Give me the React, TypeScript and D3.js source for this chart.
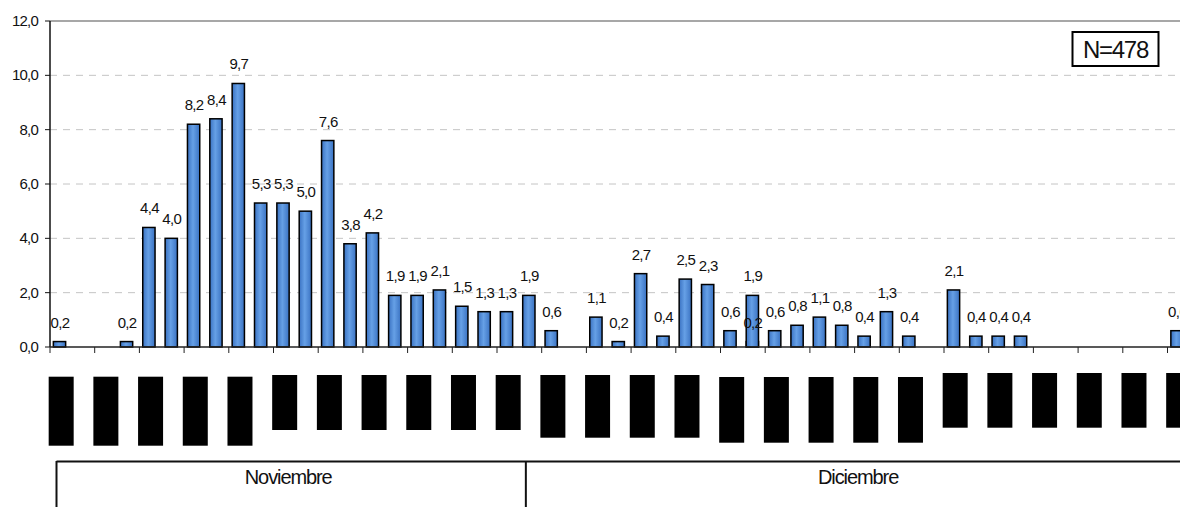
import React from "react";
import * as d3 from "d3";

// Categories: days from 10 Nov to 30 Dec
const categories: string[] = [
  "10/11","11/11","12/11","13/11","14/11","15/11","16/11","17/11","18/11","19/11",
  "20/11","21/11","22/11","23/11","24/11","25/11","26/11","27/11","28/11","29/11","30/11",
  "01/12","02/12","03/12","04/12","05/12","06/12","07/12","08/12","09/12","10/12",
  "11/12","12/12","13/12","14/12","15/12","16/12","17/12","18/12","19/12","20/12",
  "21/12","22/12","23/12","24/12","25/12","26/12","27/12","28/12","29/12","30/12",
];

// Percentage per day (null = no bar)
const values: (number | null)[] = [
  0.2, null, null, 0.2, 4.4, 4.0, 8.2, 8.4, 9.7, 5.3,
  5.3, 5.0, 7.6, 3.8, 4.2, 1.9, 1.9, 2.1, 1.5, 1.3, 1.3,
  1.9, 0.6, null, 1.1, 0.2, 2.7, 0.4, 2.5, 2.3, 0.6,
  1.9, 0.6, 0.8, 1.1, 0.8, 0.4, 1.3, 0.4, null, 2.1,
  0.4, 0.4, 0.4, null, null, null, null, null, null, 0.6,
];

// Second (overlapped) series, hidden behind the main bars
const hiddenValues: (number | null)[] = categories.map((_, i) => (i === 31 ? 0.2 : null));

const yTicks = [0, 2, 4, 6, 8, 10, 12];
const months = [
  { name: "Noviembre", count: 21 },
  { name: "Diciembre", count: 30 },
];
const nLabel = "N=478";

// Label block groups (rendered as solid blocks in the original): [count, top, bottom]
const blockGroups: [number, number, number][] = [
  [5, 376.7, 445.7],
  [6, 375, 430],
  [4, 375, 437.7],
  [5, 377, 442.7],
  [6, 373, 427.7],
];

const W = 1180;
const H = 507;
const FONT = "'Liberation Sans', Arial, sans-serif";

const fmt = (v: number) => d3.format(".1f")(v).replace(".", ",");

export default function App() {
  const left = 50;
  const step = 22.35;
  const x = d3
    .scaleBand<string>()
    .domain(categories)
    .range([left, left + step * categories.length])
    .padding(0);
  const bw = x.bandwidth();
  const y = d3.scaleLinear().domain([0, 12]).range([347, 21]);
  const barX = (c: string) => (x(c) as number) + bw * 0.15;
  const barW = bw * 0.55;

  const tickCats = categories.filter((_, i) => i % 2 === 0);
  const blockSpecs: { top: number; bottom: number }[] = [];
  blockGroups.forEach(([n, t, b]) => {
    for (let i = 0; i < n; i++) blockSpecs.push({ top: t, bottom: b });
  });

  // month boxes
  const monthOffset = 6.5;
  let acc = 0;
  const monthBoxes = months.map((m) => {
    const x0 = (x(categories[acc]) as number) + monthOffset;
    const x1 = x0 + m.count * step;
    acc += m.count;
    return { ...m, x0, x1 };
  });

  return (
    <svg
      width={W}
      height={H}
      style={{ position: "absolute", left: 0, top: 0, background: "#fff" }}
      fontFamily={FONT}
    >
      <defs>
        <linearGradient id="barGrad" x1="0" x2="1" y1="0" y2="0">
          <stop offset="0%" stopColor="#3a72c2" />
          <stop offset="45%" stopColor="#66a0e6" />
          <stop offset="100%" stopColor="#3a72c2" />
        </linearGradient>
      </defs>

      {/* gridlines */}
      {yTicks
        .filter((t) => t > 0 && t < 12)
        .map((t) => (
          <line
            key={"g" + t}
            x1={left}
            x2={W}
            y1={y(t)}
            y2={y(t)}
            stroke="#c4c4c4"
            strokeWidth={1}
            strokeDasharray="7,6"
          />
        ))}
      <line x1={left} x2={W} y1={y(12)} y2={y(12)} stroke="#8a8a8a" strokeWidth={1.5} />

      {/* y axis */}
      <line x1={left} x2={left} y1={y(12)} y2={y(0)} stroke="#111" strokeWidth={1.5} />
      {yTicks.map((t) => (
        <g key={"yt" + t}>
          <line x1={left - 5} x2={left} y1={y(t)} y2={y(t)} stroke="#111" strokeWidth={1} />
          <text
            x={38}
            y={y(t) + 5}
            textAnchor="end"
            fontSize={15}
            letterSpacing={-0.8}
            fill="#111"
          >
            {fmt(t)}
          </text>
        </g>
      ))}

      {/* hidden series bars */}
      {categories.map((c, i) =>
        hiddenValues[i] == null ? null : (
          <rect
            key={"h" + c}
            x={barX(c)}
            y={y(hiddenValues[i] as number)}
            width={barW}
            height={y(0) - y(hiddenValues[i] as number)}
            fill="url(#barGrad)"
            stroke="#000"
            strokeWidth={1.5}
          />
        )
      )}

      {/* bars */}
      {categories.map((c, i) =>
        values[i] == null ? null : (
          <rect
            key={"b" + c}
            x={barX(c)}
            y={y(values[i] as number)}
            width={barW}
            height={y(0) - y(values[i] as number)}
            fill="url(#barGrad)"
            stroke="#000"
            strokeWidth={1.5}
          />
        )
      )}

      {/* x axis */}
      <line x1={left} x2={W} y1={y(0)} y2={y(0)} stroke="#222" strokeWidth={1.5} />
      {tickCats.map((c) => (
        <line
          key={"xt" + c}
          x1={x(c) as number}
          x2={x(c) as number}
          y1={y(0)}
          y2={y(0) + 6}
          stroke="#222"
          strokeWidth={1}
        />
      ))}

      {/* data labels */}
      {categories.map((c, i) =>
        values[i] == null ? null : (
          <text
            key={"l" + c}
            x={barX(c) + barW / 2 + 0.5}
            y={y(values[i] as number) - 14}
            textAnchor="middle"
            fontSize={15}
            letterSpacing={-0.7}
            fill="#111"
          >
            {fmt(values[i] as number)}
          </text>
        )
      )}
      {categories.map((c, i) =>
        hiddenValues[i] == null ? null : (
          <text
            key={"hl" + c}
            x={barX(c) + barW / 2 + 0.5}
            y={y(hiddenValues[i] as number) - 14}
            textAnchor="middle"
            fontSize={15}
            letterSpacing={-0.7}
            fill="#111"
          >
            {fmt(hiddenValues[i] as number)}
          </text>
        )
      )}

      {/* category label blocks */}
      {tickCats.map((c, k) => {
        const s = blockSpecs[k];
        if (!s) return null;
        const cx = (x(c) as number) + bw / 2;
        return (
          <rect
            key={"blk" + c}
            x={cx - 12.5}
            y={s.top}
            width={25}
            height={s.bottom - s.top}
            fill="#000"
          >
            <title>{c}</title>
          </rect>
        );
      })}

      {/* month boxes */}
      <line
        x1={monthBoxes[0].x0}
        x2={W}
        y1={461.5}
        y2={461.5}
        stroke="#111"
        strokeWidth={2}
      />
      {monthBoxes.map((m) => (
        <g key={m.name}>
          <line x1={m.x0} x2={m.x0} y1={461} y2={H} stroke="#111" strokeWidth={2} />
          <text
            x={(m.x0 + m.x1) / 2 - 3}
            y={484}
            textAnchor="middle"
            fontSize={20}
            letterSpacing={-1.1}
            fill="#111"
          >
            {m.name}
          </text>
        </g>
      ))}

      {/* N box */}
      <rect x={1072.5} y={32} width={86} height={34} fill="#fff" stroke="#000" strokeWidth={2} />
      <text x={1115.5} y={57.5} textAnchor="middle" fontSize={24} letterSpacing={-1.3} fill="#111">
        {nLabel}
      </text>
    </svg>
  );
}
